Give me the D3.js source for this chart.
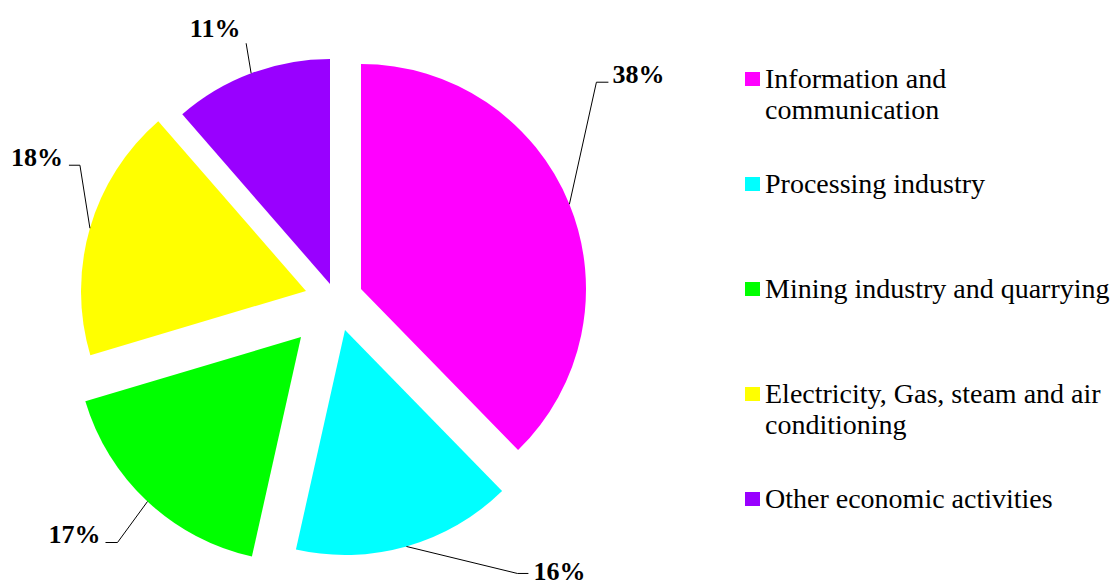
<!DOCTYPE html>
<html>
<head>
<meta charset="utf-8">
<script src="https://cdn.jsdelivr.net/npm/d3@7/dist/d3.min.js"></script>
<style>
  html, body { margin: 0; padding: 0; background: #fff; }
  svg { display: block; }
</style>
</head>
<body>
<svg id="chart" width="1111" height="580"></svg>
<script>
// ---- data ----
const categories = [
  "Information and communication",
  "Processing industry",
  "Mining industry and quarrying",
  "Electricity, Gas, steam and air conditioning",
  "Other economic activities"
];
const values = [37.7, 15.8, 16.9, 18.2, 11.4];
const labels = ["38%", "16%", "17%", "18%", "11%"];

// ---- styles ----
const colors = ["#FF00FF", "#00FFFF", "#00FF00", "#FFFF00", "#9900FF"];
// per-slice explode offsets (px)
const explode = [[28, -16], [12, 25], [-32, 32], [-27, -14], [-3, -21]];
// leader: elbow offset from arc mid-point, horizontal tail, text offset from tail end, anchor
const leader = [
  { ex: 27, ey: -122, tail: 12, tx: 4, ty: 1, anchor: "start" },
  { ex: 111, ey: 27, tail: 11, tx: 5, ty: 7, anchor: "start" },
  { ex: -30, ey: 41, tail: -12, tx: -5, ty: 0, anchor: "end" },
  { ex: -10, ey: -63, tail: -11, tx: -6, ty: 1, anchor: "end" },
  { ex: -5, ey: -30, tail: 0, tx: -31, ty: -6, anchor: "middle" }
];

const svg = d3.select("#chart");
const font = "'Liberation Serif', 'Times New Roman', serif";
const cx = 333, cy = 305, R = 225;

const pie = d3.pie().sort(null).value(d => d)(values);
const arc = d3.arc().innerRadius(0).outerRadius(R);

const g = svg.append("g").attr("transform", `translate(${cx},${cy})`);

pie.forEach((p, i) => {
  const [ox, oy] = explode[i];
  const sg = g.append("g").attr("transform", `translate(${ox},${oy})`);
  sg.append("path").attr("d", arc(p)).attr("fill", colors[i]);

  const mid = (p.startAngle + p.endAngle) / 2;
  const ax = ox + R * Math.sin(mid), ay = oy - R * Math.cos(mid);
  const L = leader[i];
  const exx = ax + L.ex, eyy = ay + L.ey;
  const endx = exx + L.tail;
  g.append("path")
    .attr("d", `M${ax},${ay}L${exx},${eyy}L${endx},${eyy}`)
    .attr("fill", "none").attr("stroke", "#000").attr("stroke-width", 1);
  g.append("text")
    .attr("font-family", font).attr("font-weight", "bold").attr("font-size", 26)
    .attr("fill", "#000")
    .attr("x", endx + L.tx).attr("y", eyy + L.ty)
    .attr("text-anchor", L.anchor)
    .text(labels[i]);
});

// ---- legend ----
const legend = svg.append("g");
const ly = d3.scaleLinear().domain([0, 4]).range([88, 508]);
const maxW = 350;
categories.forEach((c, i) => {
  const y = ly(i);
  legend.append("rect").attr("x", 745).attr("y", y - 16).attr("width", 15).attr("height", 14)
    .attr("fill", colors[i]);
  const text = legend.append("text").attr("font-family", font).attr("font-size", 28)
    .attr("fill", "#000").attr("x", 765).attr("y", y);
  const words = c.split(" ");
  let line = [];
  let tspan = text.append("tspan").attr("x", 765).attr("y", y);
  let lineNo = 0;
  words.forEach(w => {
    line.push(w);
    tspan.text(line.join(" "));
    if (tspan.node().getComputedTextLength() > maxW && line.length > 1) {
      line.pop();
      tspan.text(line.join(" "));
      line = [w];
      lineNo++;
      tspan = text.append("tspan").attr("x", 765).attr("y", y + lineNo * 31).text(w);
    }
  });
});
</script>
</body>
</html>
